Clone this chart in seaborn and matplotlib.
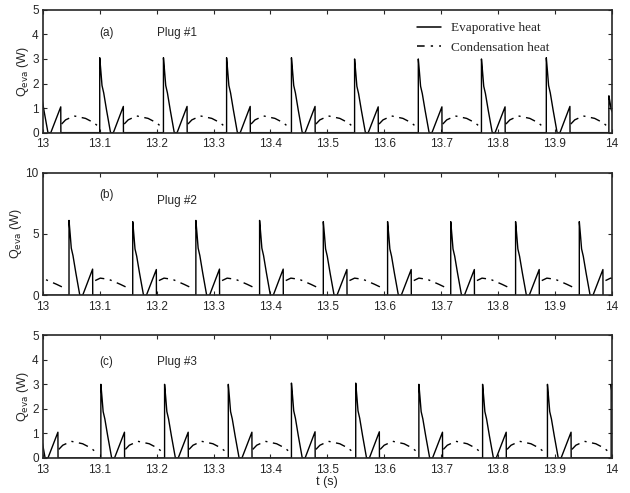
import numpy as np
import pandas as pd
import matplotlib
matplotlib.use("Agg")
import matplotlib.pyplot as plt
from matplotlib.lines import Line2D
import seaborn as sns


# --------------------------------------------------
# Data
# --------------------------------------------------

# onset time (s) of each evaporation spike and its peak height (W)
onsets_1 = [12.990, 13.100, 13.212, 13.323, 13.437, 13.548, 13.660, 13.771, 13.885, 13.995]
peaks_1 = [3.0, 3.05, 3.05, 3.05, 3.05, 3.0, 3.0, 3.0, 3.05, 1.5]

onsets_2 = [12.934, 13.046, 13.158, 13.269, 13.381, 13.493, 13.606, 13.717, 13.831, 13.943]
peaks_2 = [6.0, 6.1, 6.0, 6.1, 6.1, 6.0, 6.0, 6.0, 6.0, 6.0]

onsets_3 = [12.985, 13.102, 13.214, 13.326, 13.437, 13.550, 13.661, 13.773, 13.887, 13.999]
peaks_3 = [3.0, 3.0, 3.0, 3.0, 3.05, 3.05, 3.0, 3.0, 3.0, 3.0]

# shape of one evaporation cycle: time after onset (s), fraction of the peak
evap_offsets = [0.0, 0.0, 0.002, 0.004, 0.007, 0.012, 0.019, 0.024, 0.0415, 0.0417]
evap_shape = [0.0, 1.0, 0.82, 0.63, 0.53, 0.30, 0.0, 0.0, 0.35, 0.0]

# condensation heat between spikes: time after onset (s), value (W)
cond_offsets = [0.043, 0.050, 0.065, 0.085, 0.100, 0.109]
cond_small = [0.35, 0.52, 0.68, 0.58, 0.40, 0.22]   # plugs #1 and #3
cond_offsets_2 = [0.046, 0.055, 0.070, 0.090, 0.108]
cond_large = [1.2, 1.4, 1.3, 0.9, 0.5]               # plug #2

panel_tags = ["(a)", "(b)", "(c)"]
plug_names = ["Plug #1", "Plug #2", "Plug #3"]
tag_y = [4.07, 8.2, 3.9]
plug_y = [4.07, 7.7, 3.9]
y_max = [5, 10, 5]
y_ticks = [[0, 1, 2, 3, 4, 5], [0, 5, 10], [0, 1, 2, 3, 4, 5]]
x_ticks = [13, 13.1, 13.2, 13.3, 13.4, 13.5, 13.6, 13.7, 13.8, 13.9, 14]
x_tick_labels = ["13", "13.1", "13.2", "13.3", "13.4", "13.5", "13.6", "13.7", "13.8", "13.9", "14"]


def build_frames(onsets, peaks, c_off, c_val):
    evap_rows, cond_rows = [], []
    for k, (t0, pk) in enumerate(zip(onsets, peaks)):
        for dt, f in zip(evap_offsets, evap_shape):
            evap_rows.append((t0 + dt, f * pk))
        for dt, q in zip(c_off, c_val):
            cond_rows.append((k, t0 + dt, q))
    evap = pd.DataFrame(evap_rows, columns=["t", "q"])
    cond = pd.DataFrame(cond_rows, columns=["cycle", "t", "q"])
    return evap, cond


panels = [
    build_frames(onsets_1, peaks_1, cond_offsets, cond_small),
    build_frames(onsets_2, peaks_2, cond_offsets_2, cond_large),
    build_frames(onsets_3, peaks_3, cond_offsets, cond_small),
]

# --------------------------------------------------
# Plot
# --------------------------------------------------

sns.set_style("ticks")
plt.rcParams["font.family"] = ["Liberation Sans", "DejaVu Sans"]
plt.rcParams["xtick.direction"] = "in"
plt.rcParams["ytick.direction"] = "in"

fig, axes = plt.subplots(3, 1, figsize=(6.3, 4.93), dpi=100)
fig.subplots_adjust(left=0.068, right=0.971, top=0.98, bottom=0.071, hspace=0.325)

dash_dot = (0, (7, 4, 1.5, 4))

for i, ax in enumerate(axes):
    evap, cond = panels[i]
    sns.lineplot(data=evap, x="t", y="q", ax=ax, color="black", lw=1.0,
                 estimator=None, sort=False, legend=False)
    sns.lineplot(data=cond, x="t", y="q", units="cycle", ax=ax, color="black", lw=1.0,
                 estimator=None, sort=False, linestyle=dash_dot, legend=False)

    ax.set_xlim(13, 14)
    ax.set_ylim(0, y_max[i])
    ax.set_xticks(x_ticks)
    ax.set_xticklabels(x_tick_labels)
    ax.set_yticks(y_ticks[i])
    ax.tick_params(top=True, right=True, labelsize=8.5, length=3, width=0.8)
    ax.tick_params(axis="x", pad=4)
    ax.tick_params(axis="y", pad=3)
    for s in ax.spines.values():
        s.set_visible(True)
        s.set_linewidth(1.2)
    ax.set_ylabel(r"Q$_{\rm eva}$ (W)", fontsize=9, labelpad=1)
    ax.set_xlabel("")

    ax.text(13.1, tag_y[i], panel_tags[i], fontsize=8.5, va="center")
    ax.text(13.2, plug_y[i], plug_names[i], fontsize=8.5, va="center")

handles = [
    Line2D([], [], color="black", lw=1.1),
    Line2D([], [], color="black", lw=1.1, linestyle=(0, (5, 4, 1.5, 4))),
]
axes[0].legend(handles, ["Evaporative heat", "Condensation heat"], loc="upper right",
               bbox_to_anchor=(0.905, 0.965), frameon=False, handlelength=1.8,
               borderaxespad=0.2, labelspacing=0.55, handletextpad=0.8,
               prop={"family": ["Liberation Serif"], "size": 9.5})

axes[2].set_xlabel("t (s)", fontsize=9, labelpad=0)

fig.savefig("out.png", dpi=100)
